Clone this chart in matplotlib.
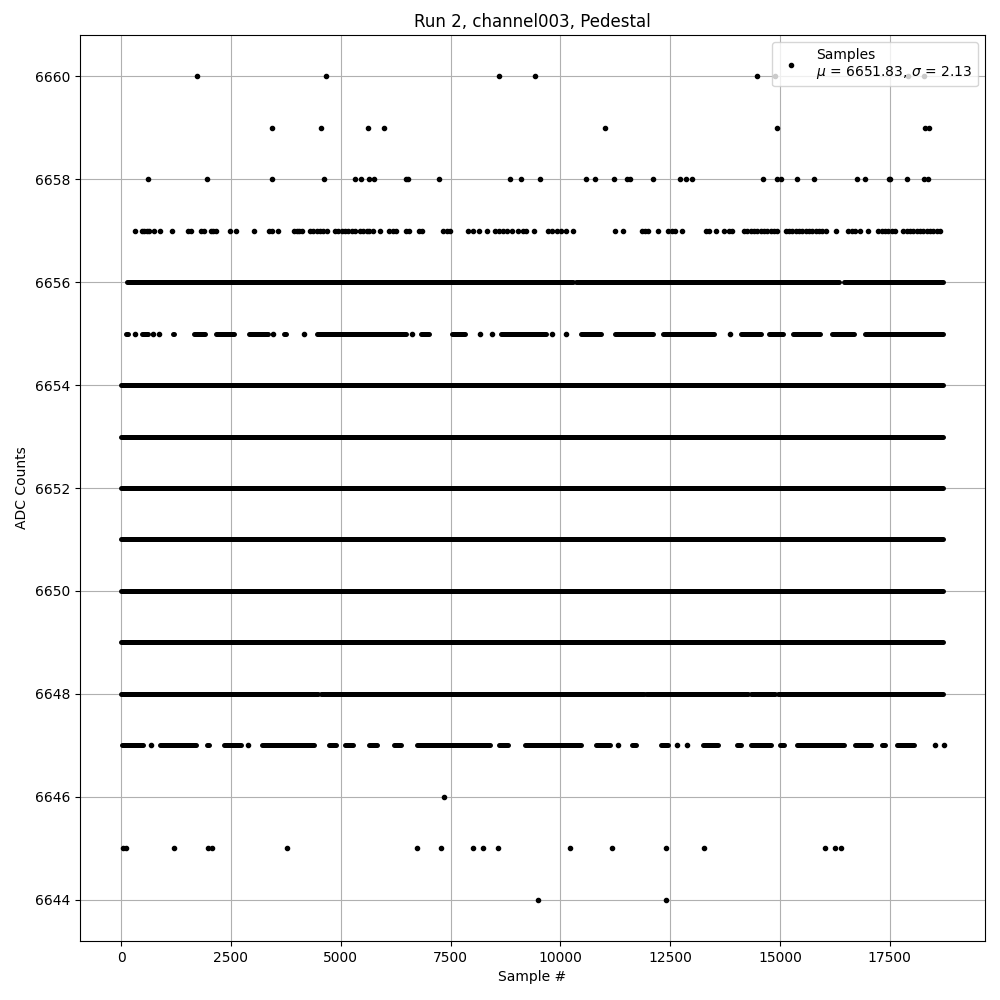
import matplotlib
matplotlib.use('Agg')
from matplotlib import pyplot as plt

# ADC value of each row of samples
# sparse rows: sample numbers of single readings
adc_6660 = [1730, 4666, 8603, 9423, 14475, 14885, 17912, 18276]
adc_6659 = [3444, 4552, 5629, 5993, 11023, 14931, 18299, 18390]
adc_6658 = [621, 1964, 3444, 4627, 5333, 5456, 5645, 5765, 6480, 6520, 7245,
            8858, 9111, 9543, 10590, 10795, 11227, 11523, 11585, 12115, 12730,
            12859, 12988, 14619, 14931, 15022, 15393, 15780, 16758, 16940,
            17480, 17510, 17896, 18270, 18361]
adc_6657 = [319, 470, 531, 584, 637, 751, 888, 1161, 1533, 1586, 1821, 1889,
            2048, 2102, 2155, 2481, 2617, 3035, 3369, 3429, 3581, 3938, 3998,
            4059, 4120, 4302, 4378, 4454, 4529, 4605, 4681, 4871, 4947, 5023,
            5098, 5174, 5250, 5326, 5440, 5516, 5592, 5652, 5728, 5903, 6108,
            6183, 6259, 6487, 6563, 6775, 6851, 7337, 7413, 7488, 7905, 8019,
            8156, 8338, 8512, 8603, 8702, 8793, 8907, 9044, 9142, 9218, 9393,
            9727, 9802, 9915, 10006, 10128, 10295, 11243, 11433, 11850, 11926,
            12002, 12229, 12457, 12533, 12609, 12760, 13307, 13383, 13534,
            13724, 13838, 13914, 14179, 14255, 14331, 14407, 14483, 14559,
            14634, 14710, 14786, 14862, 14938, 15128, 15203, 15279, 15355,
            15431, 15507, 15583, 15659, 15735, 15810, 15886, 15962, 16038,
            16266, 16554, 16630, 16706, 16819, 17009, 17237, 17312, 17388,
            17464, 17540, 17616, 17806, 17882, 17957, 18033, 18109, 18185,
            18261, 18337, 18413, 18489, 18565, 18641]
adc_6646 = [7359]
adc_6645 = [38, 106, 1214, 1988, 2079, 3786, 6745, 7284, 8019, 8247, 8588,
            10226, 11182, 12411, 13276, 16031, 16258, 16395]
adc_6644 = [9499, 12411]

# busy rows: (first, last) sample of unbroken stretches
runs_6656 = [(130, 10290), (10360, 16350), (16460, 18710)]
runs_6655 = [(120, 155), (319, 319), (480, 610), (736, 736), (873, 873),
             (1180, 1200), (1660, 1900), (2170, 2580), (2900, 3340),
             (3467, 3467), (3700, 3760), (4165, 4165), (4470, 6490),
             (6616, 6616), (6820, 7020), (7540, 7820), (8171, 8171),
             (8437, 8437), (8640, 9680), (9817, 9817), (10128, 10128),
             (10460, 10930), (11240, 12100), (12330, 13500), (13860, 13860),
             (14120, 14570), (14740, 15060), (15300, 15900), (16190, 16690),
             (16930, 18710)]
runs_6654 = [(0, 18710)]
runs_6653 = [(0, 18710)]
runs_6652 = [(0, 18710)]
runs_6651 = [(0, 18710)]
runs_6650 = [(0, 18710)]
runs_6649 = [(0, 18710)]
runs_6648 = [(0, 4480), (4560, 11900), (11960, 14280), (14340, 14880),
             (14960, 18710)]
runs_6647 = [(30, 500), (675, 675), (880, 1710), (1960, 2010), (2340, 2730),
             (2898, 2898), (3210, 4400), (4730, 4900), (5100, 5280),
             (5640, 5830), (6210, 6380), (6740, 8390), (8600, 8800),
             (9190, 10470), (10800, 11120), (11319, 11319), (11630, 11720),
             (12280, 12450), (12662, 12662), (12874, 12874), (13250, 13580),
             (14020, 14110), (14330, 14800), (14990, 15080), (15390, 16460),
             (16700, 17070), (17310, 17380), (17660, 18060), (18527, 18527),
             (18731, 18731)]

mean_adc = 6651.83
std_adc = 2.13

points = {6660: adc_6660, 6659: adc_6659, 6658: adc_6658, 6657: adc_6657,
          6646: adc_6646, 6645: adc_6645, 6644: adc_6644}
runs = {6656: runs_6656, 6655: runs_6655, 6654: runs_6654, 6653: runs_6653,
        6652: runs_6652, 6651: runs_6651, 6650: runs_6650, 6649: runs_6649,
        6648: runs_6648, 6647: runs_6647}

fig, ax = plt.subplots(figsize=(10, 10), dpi=100)

label = 'Samples\n$\\mu$ = %.2f, $\\sigma$ = %.2f' % (mean_adc, std_adc)
first = True
for level, xs in points.items():
    ax.plot(xs, [level] * len(xs), 'k.', label=label if first else None)
    first = False

for level, segs in runs.items():
    single = [a for a, b in segs if a == b]
    ax.plot(single, [level] * len(single), 'k.')
    long_segs = [(a, b) for a, b in segs if a != b]
    ax.hlines([level] * len(long_segs), [a for a, b in long_segs],
              [b for a, b in long_segs], colors='k', linewidth=3.6,
              capstyle='round')

ax.set_xlim(-936, 19666)
ax.set_ylim(6643.2, 6660.8)
ax.grid(True)
ax.set_axisbelow(True)
ax.set_title('Run 2, channel003, Pedestal')
ax.set_xlabel('Sample #')
ax.set_ylabel('ADC Counts')
ax.legend(loc='upper right')
fig.subplots_adjust(left=0.08, right=0.985, top=0.965, bottom=0.059)
fig.savefig('out.png')
